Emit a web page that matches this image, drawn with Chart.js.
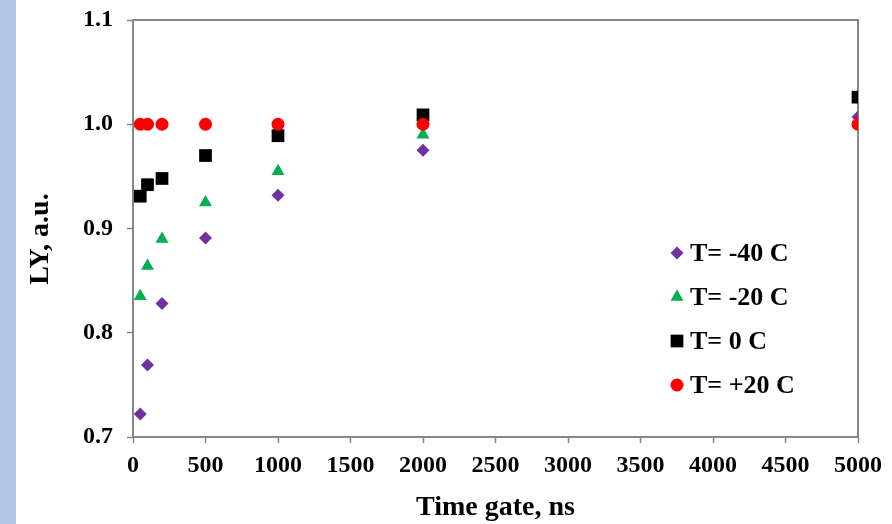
<!DOCTYPE html>
<html>
<head>
<meta charset="utf-8">
<script src="https://cdn.jsdelivr.net/npm/chart.js@4/dist/chart.umd.min.js"></script>
<style>
  html, body { margin: 0; padding: 0; background: #fff; }
  #wrap { position: relative; width: 892px; height: 524px; }
  #strip { position: absolute; left: 0; top: 0; width: 16px; height: 524px; background: #b4c6e7; }
  #chart { position: absolute; left: 0; top: 0; }
</style>
</head>
<body>
<div id="wrap">
  <div id="strip"></div>
  <canvas id="chart" width="892" height="524"></canvas>
</div>
<script>
/* --------------- Data --------------------- */
const timeGates = [50, 100, 200, 500, 1000, 2000, 5000];
const seriesLabels = ["T= -40 C", "T= -20 C", "T= 0 C", "T= +20 C"];
const lyMinus40 = [0.722, 0.769, 0.828, 0.891, 0.932, 0.975, 1.007];
const lyMinus20 = [0.835, 0.864, 0.890, 0.925, 0.955, 0.990, 1.024];
const lyZero = [0.931, 0.942, 0.948, 0.970, 0.989, 1.009, 1.026];
const lyPlus20 = [1.0, 1.0, 1.0, 1.0, 1.0, 1.0, 1.0];
const xTicks = [0, 500, 1000, 1500, 2000, 2500, 3000, 3500, 4000, 4500, 5000];
const yTicks = [0.7, 0.8, 0.9, 1.0, 1.1];

/* --------------- Styles --------------------- */
const FONT = '"Liberation Serif", "Times New Roman", serif';
const AXIS_GREY = "#868686";
const markers = [
  { color: "#7030a0", style: "rectRot", radius: 6.5 },
  { color: "#00b050", style: "triangle", radius: 7.5 },
  { color: "#000000", style: "rect", radius: 9 },
  { color: "#ff0000", style: "circle", radius: 6.5 },
];

const toPoints = (ys) => timeGates.map((x, i) => ({ x: x, y: ys[i] }));
const allSeries = [lyMinus40, lyMinus20, lyZero, lyPlus20];

const datasets = allSeries.map((ys, i) => ({
  label: seriesLabels[i],
  data: toPoints(ys),
  showLine: false,
  pointStyle: markers[i].style,
  pointRadius: markers[i].radius,
  pointHoverRadius: markers[i].radius,
  pointBackgroundColor: markers[i].color,
  pointBorderColor: markers[i].color,
  pointBorderWidth: 0,
  order: allSeries.length - i, // later series drawn on top, like Excel
}));

/* --------------- Plot border + legend inside plot --------------------- */
const frameAndLegend = {
  id: "frameAndLegend",
  beforeDatasetsDraw(chart) {
    const { ctx, chartArea: a } = chart;
    ctx.save();
    ctx.strokeStyle = AXIS_GREY;
    ctx.lineWidth = 2;
    ctx.strokeRect(a.left, a.top, a.right - a.left, a.bottom - a.top);
    ctx.restore();
  },
  afterDraw(chart) {
    const { ctx, chartArea: a } = chart;
    const x0 = a.right - 181;
    const y0 = a.top + 233;
    ctx.save();
    chart.data.datasets.forEach((ds, i) => {
      const y = y0 + i * 44;
      const m = markers[i];
      ctx.fillStyle = m.color;
      ctx.beginPath();
      const r = m.radius;
      if (m.style === "rectRot") {
        ctx.moveTo(x0 - r, y); ctx.lineTo(x0, y - r);
        ctx.lineTo(x0 + r, y); ctx.lineTo(x0, y + r);
      } else if (m.style === "triangle") {
        ctx.moveTo(x0 - r * 0.866, y + r / 2);
        ctx.lineTo(x0, y - r); ctx.lineTo(x0 + r * 0.866, y + r / 2);
      } else if (m.style === "rect") {
        const s = r * Math.SQRT1_2;
        ctx.rect(x0 - s, y - s, 2 * s, 2 * s);
      } else {
        ctx.arc(x0, y, r, 0, Math.PI * 2);
      }
      ctx.closePath();
      ctx.fill();
      ctx.fillStyle = "#000";
      ctx.font = "bold 26px " + FONT;
      ctx.textBaseline = "middle";
      ctx.textAlign = "left";
      ctx.fillText(ds.label, x0 + 13, y + 1);
    });
    ctx.restore();
  },
};

/* --------------- Chart --------------------- */
new Chart(document.getElementById("chart"), {
  type: "scatter",
  data: { datasets: datasets },
  plugins: [frameAndLegend],
  options: {
    responsive: false,
    animation: false,
    events: [],
    layout: { padding: { left: 0, right: 34, top: 20, bottom: 0 } },
    plugins: {
      legend: { display: false },
      tooltip: { enabled: false },
    },
    scales: {
      x: {
        type: "linear",
        min: 0,
        max: 5000,
        afterFit: (s) => { s.height = 87; s.paddingLeft = 0; s.paddingRight = 0; },
        afterBuildTicks: (s) => { s.ticks = xTicks.map((v) => ({ value: v })); },
        grid: {
          drawOnChartArea: false,
          drawTicks: true,
          tickLength: 6,
          tickColor: AXIS_GREY,
          tickWidth: 1.5,
        },
        border: { display: true, color: AXIS_GREY, width: 2 },
        ticks: {
          color: "#000",
          padding: 8,
          maxRotation: 0,
          callback: (v) => String(v),
          font: { family: FONT, size: 24, weight: "bold" },
        },
        title: {
          display: true,
          text: "Time gate, ns",
          color: "#000",
          padding: { top: 4, bottom: -1 },
          font: { family: FONT, size: 28, weight: "bold" },
        },
      },
      y: {
        type: "linear",
        min: 0.7,
        max: 1.1,
        afterFit: (s) => { s.width = 133; s.paddingTop = 0; s.paddingBottom = 0; },
        afterBuildTicks: (s) => { s.ticks = yTicks.map((v) => ({ value: v })); },
        grid: {
          drawOnChartArea: false,
          drawTicks: true,
          tickLength: 6,
          tickColor: AXIS_GREY,
          tickWidth: 1.5,
        },
        border: { display: true, color: AXIS_GREY, width: 2 },
        ticks: {
          color: "#000",
          padding: 14,
          callback: (v) => Number(v).toFixed(1),
          font: { family: FONT, size: 24, weight: "bold" },
        },
        title: {
          display: true,
          // trailing spaces nudge the rotated title slightly down, as in the original
          text: "LY, a.u.   ",
          color: "#000",
          padding: { top: 24, bottom: 0 },
          font: { family: FONT, size: 28, weight: "bold" },
        },
      },
    },
  },
});
</script>
</body>
</html>
